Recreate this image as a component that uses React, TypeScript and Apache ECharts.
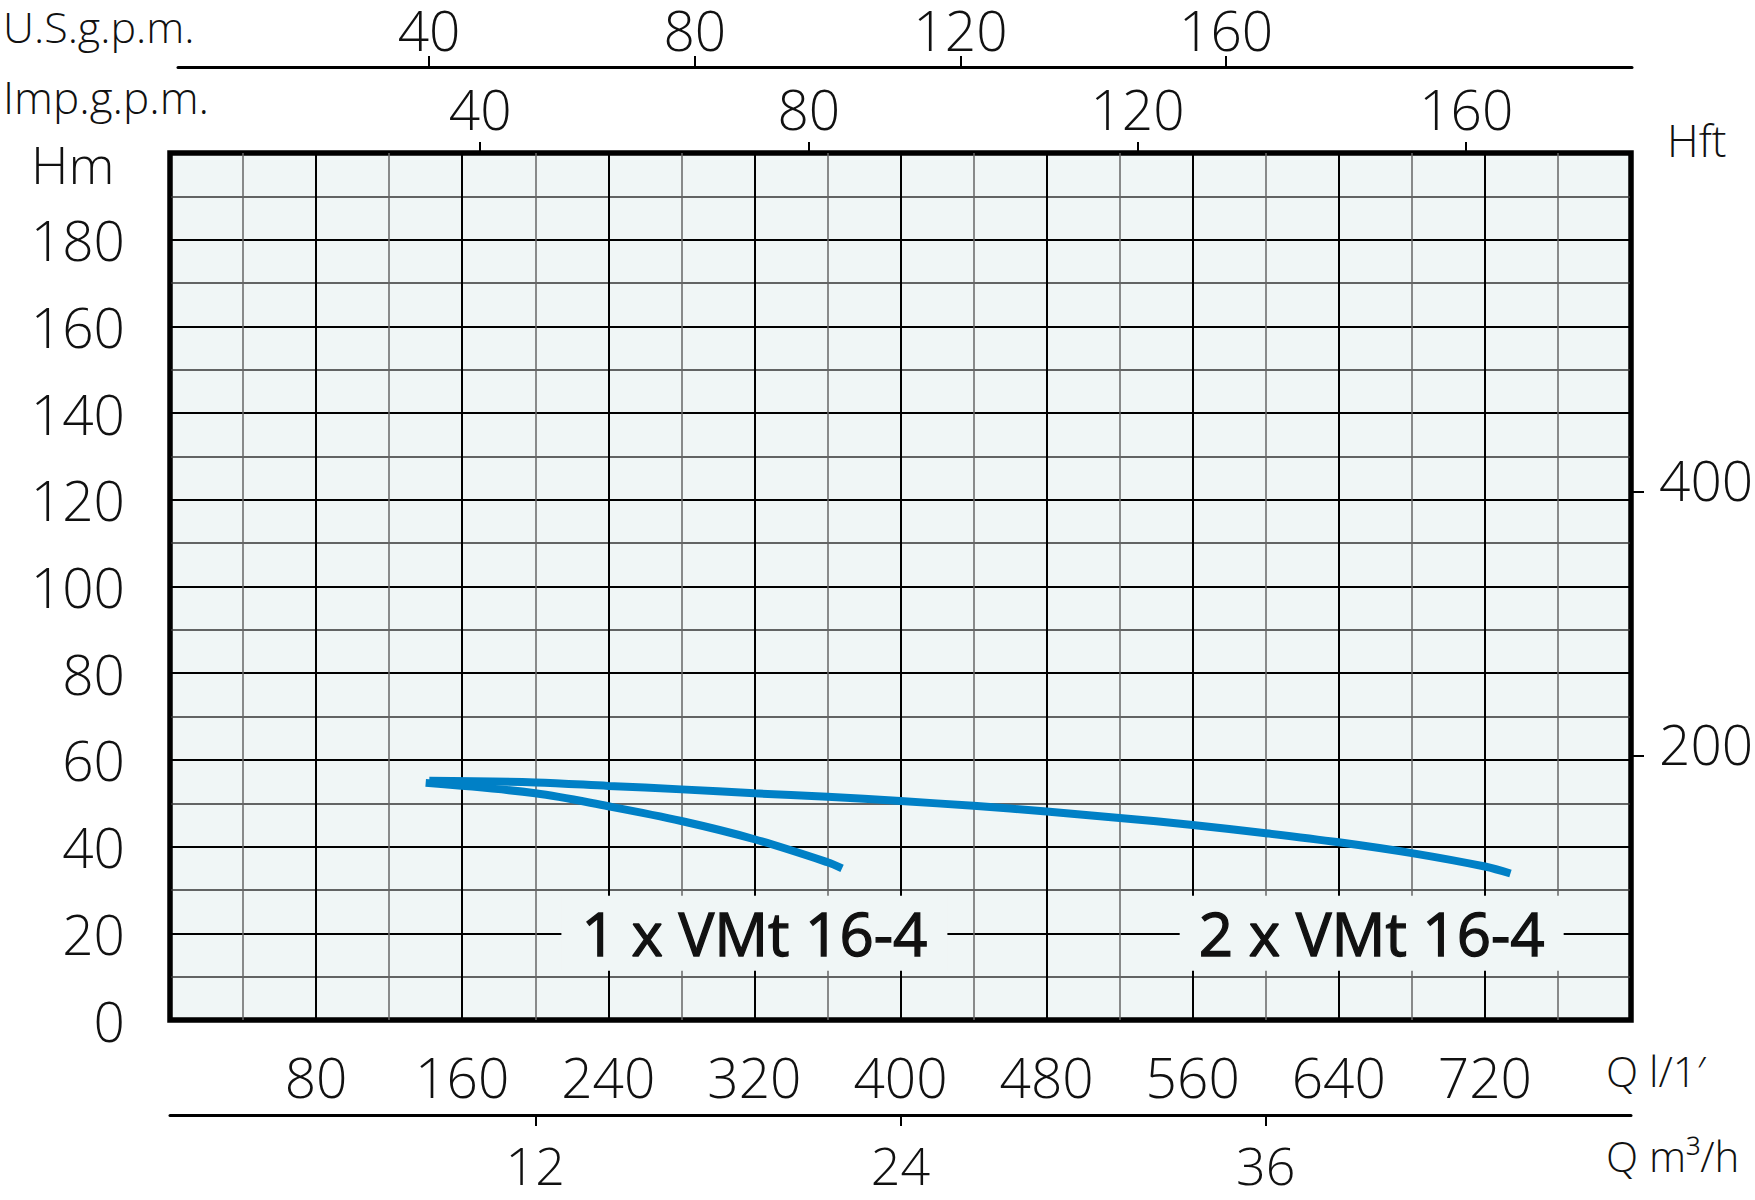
import React, { useEffect, useRef } from "react";
import * as echarts from "echarts";

// ---- data ----
const flowLpmMin = 0;
const flowLpmMax = 800;
const flowLpmStep = 80;
const headMMin = 0;
const headMMax = 200;
const headMStep = 20;
const headFtTicks = [200, 400];
const m3hTicks = [12, 24, 36];
const usGpmTicks = [40, 80, 120, 160];
const impGpmTicks = [40, 80, 120, 160];
// reading ranges of the printed gpm scales across the chart width
const usGpmRange = [2.2, 221.1];
const impGpmRange = [2.26, 180.05];

const curveNames = ["1 x VMt 16-4", "2 x VMt 16-4"];
const curve1Q = [140, 200, 240, 280, 320, 360, 368];
const curve1H = [54.7, 52.3, 49.3, 45.9, 41.7, 36.4, 35.0];
const curve2Q = [142, 200, 240, 280, 320, 360, 400, 440, 480, 520, 560, 600, 640, 680, 720, 734];
const curve2H = [55.2, 54.8, 54.0, 53.2, 52.3, 51.5, 50.5, 49.4, 48.1, 46.6, 45.0, 43.1, 41.0, 38.5, 35.4, 33.8];
const curveLabelAt = [
  [320, 20],
  [658, 20],
];

const FT_PER_M = 1 / 0.3048;

// ---- styles ----
const FONT = "'Open Sans', 'Noto Sans', sans-serif";
const BG = "#f0f6f6";
const BLUE = "#0080c6";
const INK = "#111";

const App: React.FC = () => {
  const ref = useRef<HTMLDivElement>(null);

  useEffect(() => {
    if (!ref.current) return;
    const chart = echarts.init(ref.current, undefined, { renderer: "svg" });

    const tickLabel = {
      fontFamily: FONT,
      fontSize: 55,
      fontWeight: 300,
      lineHeight: 56,
      color: INK,
    };
    const tickStyle = { color: "#000", width: 2 };

    const option: any = {
      animation: false,
      backgroundColor: "#fff",
      grid: [
        {
          left: 170,
          top: 153,
          width: 1461,
          height: 867,
          outerBoundsMode: "none",
          containLabel: false,
          show: true,
          backgroundColor: BG,
          borderColor: "#000",
          borderWidth: 5.5,
          z: 0,
        },
        {
          left: 178,
          top: 67,
          width: 1454,
          height: 20,
          outerBoundsMode: "none",
          containLabel: false,
          show: false,
        },
      ],
      xAxis: [
        {
          gridIndex: 0,
          type: "value",
          position: "bottom",
          min: flowLpmMin,
          max: flowLpmMax,
          interval: flowLpmStep,
          axisLine: { show: false, onZero: false },
          axisTick: { show: false },
          axisLabel: {
            ...tickLabel,
            margin: 28,
            formatter: (v: number) => (v === flowLpmMin || v === flowLpmMax ? "" : String(v)),
          },
          splitLine: { show: true, lineStyle: { color: "#000", width: 2 } },
          minorTick: { show: false, splitNumber: 2 },
          minorSplitLine: { show: true, lineStyle: { color: "#666", width: 1.5 } },
          z: 1,
        },
        {
          gridIndex: 0,
          type: "value",
          position: "bottom",
          offset: 95,
          min: 0,
          max: (flowLpmMax * 60) / 1000,
          axisLine: { show: true, onZero: false, lineStyle: { color: "#000", width: 3 } },
          axisTick: { show: true, customValues: m3hTicks, length: 11, lineStyle: tickStyle },
          axisLabel: {
            ...tickLabel,
            fontSize: 52,
            lineHeight: 52,
            margin: 23,
            customValues: m3hTicks,
          },
          splitLine: { show: false },
        },
        {
          gridIndex: 0,
          type: "value",
          position: "top",
          min: impGpmRange[0],
          max: impGpmRange[1],
          axisLine: { show: false, onZero: false },
          axisTick: { show: true, customValues: impGpmTicks, length: 11, lineStyle: tickStyle },
          axisLabel: { ...tickLabel, margin: 17, customValues: impGpmTicks },
          splitLine: { show: false },
        },
        {
          gridIndex: 1,
          type: "value",
          position: "top",
          min: usGpmRange[0],
          max: usGpmRange[1],
          axisLine: { show: true, onZero: false, lineStyle: { color: "#000", width: 3 } },
          axisTick: { show: true, customValues: usGpmTicks, length: 11, lineStyle: tickStyle },
          axisLabel: { ...tickLabel, margin: 10, customValues: usGpmTicks },
          splitLine: { show: false },
        },
      ],
      yAxis: [
        {
          gridIndex: 0,
          type: "value",
          position: "left",
          min: headMMin,
          max: headMMax,
          interval: headMStep,
          axisLine: { show: false, onZero: false },
          axisTick: { show: false },
          axisLabel: {
            ...tickLabel,
            margin: 45,
            formatter: (v: number) => (v === headMMax ? "" : String(v)),
          },
          splitLine: { show: true, lineStyle: { color: "#000", width: 2.2 } },
          minorTick: { show: false, splitNumber: 2 },
          minorSplitLine: { show: true, lineStyle: { color: "#333", width: 1.5 } },
          z: 1,
        },
        {
          gridIndex: 0,
          type: "value",
          position: "right",
          min: headMMin * FT_PER_M,
          max: headMMax * FT_PER_M,
          axisLine: { show: false, onZero: false },
          axisTick: { show: true, customValues: headFtTicks, length: 13, lineStyle: tickStyle },
          axisLabel: {
            margin: 28,
            customValues: headFtTicks,
            formatter: (v: number) => `{v|${v}}\n{s|}`,
            rich: {
              v: { ...tickLabel, align: "left" },
              s: { height: 24, lineHeight: 24, fontSize: 10 },
            },
          },
          splitLine: { show: false },
        },
        { gridIndex: 1, type: "value", show: false, min: 0, max: 1 },
      ],
      series: [0, 1].map((k) => {
        const qs = k === 0 ? curve1Q : curve2Q;
        const hs = k === 0 ? curve1H : curve2H;
        return {
          type: "line",
          name: curveNames[k],
          xAxisIndex: 0,
          yAxisIndex: 0,
          data: qs.map((q, i) => [q, hs[i]]),
          smooth: 0.35,
          symbol: "none",
          lineStyle: { color: BLUE, width: 8, cap: "butt" },
          z: 5,
          markPoint: {
            silent: true,
            symbol: "rect",
            symbolSize: [k === 0 ? 386 : 384, 75],
            itemStyle: { color: BG },
            label: {
              show: true,
              position: "inside",
              formatter: curveNames[k],
              fontFamily: FONT,
              fontSize: 60,
              fontWeight: 500,
              color: INK,
              textBorderColor: INK,
              textBorderWidth: 1.3,
            },
            data: [{ coord: curveLabelAt[k] }],
          },
        };
      }),
      graphic: [
        {
          type: "text",
          left: 3,
          top: 4,
          style: { text: "U.S.g.p.m.", font: `300 43px ${FONT}`, lineHeight: 44, fill: INK },
        },
        {
          type: "text",
          left: 3,
          top: 75,
          style: { text: "Imp.g.p.m.", font: `300 44px ${FONT}`, lineHeight: 44, fill: INK },
        },
        {
          type: "text",
          left: 31,
          top: 137,
          style: { text: "Hm", font: `300 52px ${FONT}`, fill: INK },
        },
        {
          type: "text",
          left: 1667,
          top: 118,
          style: { text: "Hft", font: `300 44px ${FONT}`, fill: INK },
        },
        {
          type: "text",
          left: 1606,
          top: 1049,
          style: { text: "Q l/1′", font: `300 42px ${FONT}`, fill: INK },
        },
        {
          type: "text",
          left: 1606,
          top: 1134,
          style: { text: "Q m³/h", font: `300 42px ${FONT}`, fill: INK },
        },
      ],
    };

    chart.setOption(option);
    return () => chart.dispose();
  }, []);

  return (
    <div
      ref={ref}
      style={{ position: "absolute", left: 0, top: 0, width: 1755, height: 1200 }}
    />
  );
};

export default App;
